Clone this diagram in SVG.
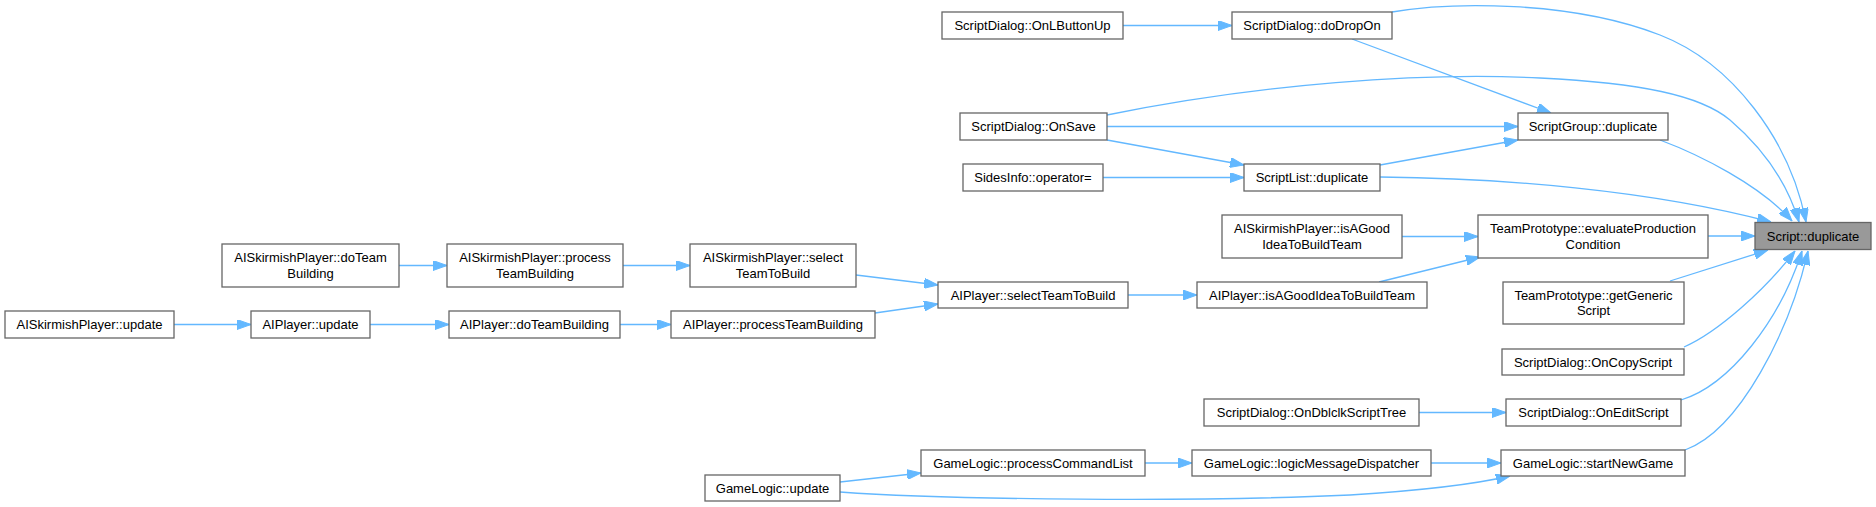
<svg xmlns="http://www.w3.org/2000/svg" width="1876" height="507" viewBox="0 0 1876 507">
<style>
.n rect{fill:#ffffff;stroke:#666666;stroke-width:1.3}
.n.main rect{fill:#999999}
.n text{font-family:"Liberation Sans",Arial,sans-serif;font-size:13px;fill:#000000;text-anchor:middle}
#edges path{fill:none;stroke:#63b8ff;stroke-width:1.3;marker-end:url(#ah)}
</style>
<defs>
<marker id="ah" viewBox="0 0 14 10" refX="14" refY="5" markerWidth="14" markerHeight="10" markerUnits="userSpaceOnUse" orient="auto">
<polygon points="0,0 14,5 0,10" fill="#63b8ff" stroke="#63b8ff" stroke-width="1"/>
</marker>
</defs>
<rect width="1876" height="507" fill="#ffffff"/>
<g id="edges">
<path d="M1123,25.5 L1232,25.5"/>
<path d="M1352,39 L1551,113"/>
<path d="M1392,12 C1450,2 1570,0 1660,35 C1732,63 1790,140 1806,222"/>
<path d="M1107,126.5 L1518,126.5"/>
<path d="M1107,140 L1244,165"/>
<path d="M1107,115 C1260,84 1420,72 1540,78 C1640,83 1700,95 1730,120 C1765,150 1788,185 1799,222"/>
<path d="M1660,140 C1700,155 1760,185 1792,221"/>
<path d="M1380,165 L1518,140"/>
<path d="M1103,177.5 L1244,177.5"/>
<path d="M1380,177 C1500,178 1650,190 1771,222"/>
<path d="M1402,236.5 L1478,236.5"/>
<path d="M1708,236 L1755,236"/>
<path d="M1379,282 L1480,257"/>
<path d="M1670,281 L1768,250"/>
<path d="M1684,347 C1718,332 1765,290 1795,251"/>
<path d="M1681,400 C1730,385 1780,320 1802,251"/>
<path d="M1685,450 C1740,430 1790,330 1808,251"/>
<path d="M1419,412.5 L1506,412.5"/>
<path d="M1145,463 L1192,463"/>
<path d="M1431,463 L1501,463"/>
<path d="M840,482 L921,473"/>
<path d="M840,492 C950,500 1200,502 1350,495 C1430,490 1480,483 1510,476"/>
<path d="M399,265.5 L447,265.5"/>
<path d="M623,265.5 L690,265.5"/>
<path d="M856,275 L938,285"/>
<path d="M174,324.5 L251,324.5"/>
<path d="M370,324.5 L449,324.5"/>
<path d="M620,324.5 L671,324.5"/>
<path d="M875,313 L938,304"/>
<path d="M1128,295 L1197,295"/>
</g>
<g id="n1" class="n"><rect x="942" y="12" width="181" height="27"/><text x="1032.5" y="30">ScriptDialog::OnLButtonUp</text></g>
<g id="n2" class="n"><rect x="1232" y="12" width="160" height="27"/><text x="1312" y="30">ScriptDialog::doDropOn</text></g>
<g id="n3" class="n"><rect x="960" y="113" width="147" height="27"/><text x="1033.5" y="131">ScriptDialog::OnSave</text></g>
<g id="n4" class="n"><rect x="1518" y="113" width="150" height="27"/><text x="1593" y="131">ScriptGroup::duplicate</text></g>
<g id="n5" class="n"><rect x="963" y="164" width="140" height="27"/><text x="1033" y="182">SidesInfo::operator=</text></g>
<g id="n6" class="n"><rect x="1244" y="164" width="136" height="27"/><text x="1312" y="182">ScriptList::duplicate</text></g>
<g id="n7" class="n"><rect x="1222" y="215" width="180" height="43"/><text x="1312" y="233.3">AISkirmishPlayer::isAGood</text><text x="1312" y="248.7">IdeaToBuildTeam</text></g>
<g id="n8" class="n"><rect x="1478" y="215" width="230" height="43"/><text x="1593" y="233.3">TeamPrototype::evaluateProduction</text><text x="1593" y="248.7">Condition</text></g>
<g id="n9" class="n main"><rect x="1755" y="222.5" width="116" height="27"/><text x="1813" y="240.5">Script::duplicate</text></g>
<g id="n10" class="n"><rect x="1503" y="282" width="181" height="42"/><text x="1593.5" y="299.8">TeamPrototype::getGeneric</text><text x="1593.5" y="315.2">Script</text></g>
<g id="n11" class="n"><rect x="938" y="282" width="190" height="26"/><text x="1033" y="299.5">AIPlayer::selectTeamToBuild</text></g>
<g id="n12" class="n"><rect x="1197" y="282" width="230" height="26"/><text x="1312" y="299.5">AIPlayer::isAGoodIdeaToBuildTeam</text></g>
<g id="n13" class="n"><rect x="1502" y="349" width="182" height="26"/><text x="1593" y="366.5">ScriptDialog::OnCopyScript</text></g>
<g id="n14" class="n"><rect x="1204" y="399" width="215" height="27"/><text x="1311.5" y="417">ScriptDialog::OnDblclkScriptTree</text></g>
<g id="n15" class="n"><rect x="1506" y="399" width="175" height="27"/><text x="1593.5" y="417">ScriptDialog::OnEditScript</text></g>
<g id="n16" class="n"><rect x="921" y="450" width="224" height="26"/><text x="1033" y="467.5">GameLogic::processCommandList</text></g>
<g id="n17" class="n"><rect x="1192" y="450" width="239" height="26"/><text x="1311.5" y="467.5">GameLogic::logicMessageDispatcher</text></g>
<g id="n18" class="n"><rect x="1501" y="450" width="184" height="26"/><text x="1593" y="467.5">GameLogic::startNewGame</text></g>
<g id="n19" class="n"><rect x="705" y="475" width="135" height="26"/><text x="772.5" y="492.5">GameLogic::update</text></g>
<g id="n20" class="n"><rect x="222" y="244" width="177" height="43"/><text x="310.5" y="262.3">AISkirmishPlayer::doTeam</text><text x="310.5" y="277.7">Building</text></g>
<g id="n21" class="n"><rect x="447" y="244" width="176" height="43"/><text x="535" y="262.3">AISkirmishPlayer::process</text><text x="535" y="277.7">TeamBuilding</text></g>
<g id="n22" class="n"><rect x="690" y="244" width="166" height="43"/><text x="773" y="262.3">AISkirmishPlayer::select</text><text x="773" y="277.7">TeamToBuild</text></g>
<g id="n23" class="n"><rect x="5" y="311" width="169" height="27"/><text x="89.5" y="329">AISkirmishPlayer::update</text></g>
<g id="n24" class="n"><rect x="251" y="311" width="119" height="27"/><text x="310.5" y="329">AIPlayer::update</text></g>
<g id="n25" class="n"><rect x="449" y="311" width="171" height="27"/><text x="534.5" y="329">AIPlayer::doTeamBuilding</text></g>
<g id="n26" class="n"><rect x="671" y="311" width="204" height="27"/><text x="773" y="329">AIPlayer::processTeamBuilding</text></g>
</svg>
